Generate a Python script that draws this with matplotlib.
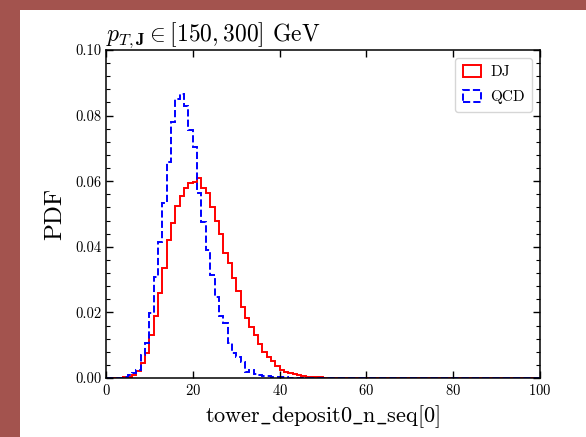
import numpy as np
import matplotlib
matplotlib.use("Agg")
import matplotlib.pyplot as plt
from matplotlib.patches import Rectangle

# -----------------------
# Data (bins of width 1 from 0 to 100)
# -----------------------
bin_edges = np.arange(0, 101)

dj_pdf = [
    0.0, 0.0, 0.0, 0.0001, 0.0002, 0.0003, 0.0009, 0.0022, 0.0045, 0.0077,
    0.0131, 0.0189, 0.0258, 0.0334, 0.0421, 0.0474, 0.0525, 0.0555, 0.0578, 0.0594,
    0.0599, 0.0609, 0.0578, 0.0563, 0.0522, 0.0480, 0.0438, 0.0382, 0.0350, 0.0304,
    0.0266, 0.0217, 0.0182, 0.0156, 0.0131, 0.0104, 0.0080, 0.0065, 0.0052, 0.0037,
    0.0024, 0.0019, 0.0014, 0.0011, 0.0008, 0.0006, 0.0004, 0.0003, 0.0002, 0.0002,
    0.0001, 0.0001, 0.0001, 0.00005, 0.00005, 0.00004, 0.00003, 0.00003, 0.00002, 0.00002,
    0.00002, 0.00001, 0.00001, 0.00001, 0.00001, 0.0, 0.0, 0.0, 0.0, 0.0,
    0.0, 0.0, 0.0, 0.0, 0.0, 0.0, 0.0, 0.0, 0.0, 0.0,
    0.0, 0.0, 0.0, 0.0, 0.0, 0.0, 0.0, 0.0, 0.0, 0.0,
    0.0, 0.0, 0.0, 0.0, 0.0, 0.0, 0.0, 0.0, 0.0, 0.0,
]

qcd_pdf = [
    0.0, 0.0, 0.00005, 0.0001, 0.0003, 0.0009, 0.0016, 0.0024, 0.0070, 0.0106,
    0.0197, 0.0307, 0.0416, 0.0535, 0.0660, 0.0782, 0.0852, 0.0866, 0.0830, 0.0756,
    0.0705, 0.0563, 0.0477, 0.0391, 0.0315, 0.0246, 0.0190, 0.0167, 0.0108, 0.0075,
    0.0065, 0.0050, 0.0019, 0.0024, 0.0011, 0.0008, 0.0007, 0.0005, 0.0004, 0.0003,
    0.0002, 0.0002, 0.0001, 0.0001, 0.0001, 0.00005, 0.00004, 0.00003, 0.00002, 0.00002,
    0.00001, 0.00001, 0.00001, 0.0, 0.0, 0.0, 0.0, 0.0, 0.0, 0.0,
    0.0, 0.0, 0.0, 0.0, 0.0, 0.0, 0.0, 0.0, 0.0, 0.0,
    0.0, 0.0, 0.0, 0.0, 0.0, 0.0, 0.0, 0.0, 0.0, 0.0,
    0.0, 0.0, 0.0, 0.0, 0.0, 0.0, 0.0, 0.0, 0.0, 0.0,
    0.0, 0.0, 0.0, 0.0, 0.0, 0.0, 0.0, 0.0, 0.0, 0.0,
]

series_labels = ["DJ", "QCD"]
x_ticks = [0, 20, 40, 60, 80, 100]
y_ticks = [0.00, 0.02, 0.04, 0.06, 0.08, 0.10]

# -----------------------
# Style
# -----------------------
plt.rcParams["font.family"] = ["cmr10", "DejaVu Serif"]
plt.rcParams["mathtext.fontset"] = "cm"
plt.rcParams["axes.formatter.use_mathtext"] = True

fig = plt.figure(figsize=(5.86, 4.37), dpi=100, facecolor="#a3534e")
# white page on top of the reddish backdrop
fig.patches.append(Rectangle((20 / 586, 0), 1 - 20 / 586, 1 - 10 / 437,
                             transform=fig.transFigure, facecolor="white",
                             edgecolor="none", zorder=-10))

ax = fig.add_axes([106 / 586, 1 - 378 / 437, 434 / 586, 328 / 437])

ax.stairs(dj_pdf, bin_edges, color="red", lw=1.4)
ax.stairs(qcd_pdf, bin_edges, color="blue", lw=1.4, ls="--")

ax.set_xlim(0, 100)
ax.set_ylim(0, 0.10)
ax.set_xticks(x_ticks)
ax.set_yticks(y_ticks)
ax.set_yticklabels([f"{v:.2f}" for v in y_ticks])
ax.set_yticks(np.arange(0, 0.1001, 0.004), minor=True)

ax.tick_params(which="both", direction="in", top=True, right=True, labelsize=10.5)
ax.tick_params(which="major", length=5, width=1)
ax.tick_params(which="minor", length=3, width=0.8)
for s in ax.spines.values():
    s.set_linewidth(1.1)

ax.set_xlabel(r"tower$\_$deposit0$\_$n$\_$seq[0]", fontsize=16, labelpad=4)
ax.set_ylabel("PDF", fontsize=18, labelpad=6)
ax.set_title(r"$p_{T,\mathbf{J}} \in [150, 300]$ GeV", loc="left", fontsize=17, pad=4)

# histogram-style legend boxes
handles = [
    Rectangle((0, 0), 1, 1, facecolor="none", edgecolor="red", lw=1.4),
    Rectangle((0, 0), 1, 1, facecolor="none", edgecolor="blue", lw=1.4, ls="--"),
]
leg = ax.legend(handles, series_labels, loc="upper right", fontsize=11,
                handlelength=1.2, handleheight=0.8, borderpad=0.5,
                labelspacing=0.7, handletextpad=0.6)
leg.get_frame().set_edgecolor("#cccccc")

fig.savefig("out.png", dpi=100, facecolor=fig.get_facecolor())
